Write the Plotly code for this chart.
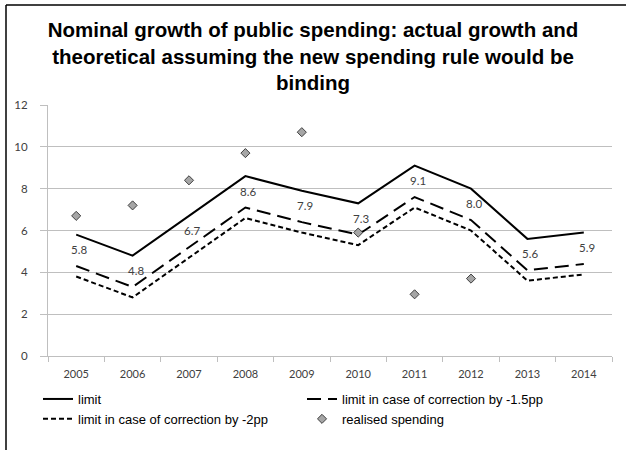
import plotly.graph_objects as go

years = ["2005", "2006", "2007", "2008", "2009", "2010", "2011", "2012", "2013", "2014"]
limit = [5.8, 4.8, 6.7, 8.6, 7.9, 7.3, 9.1, 8.0, 5.6, 5.9]
limit_15 = [4.3, 3.3, 5.2, 7.1, 6.4, 5.8, 7.6, 6.5, 4.1, 4.4]
limit_2 = [3.8, 2.8, 4.7, 6.6, 5.9, 5.3, 7.1, 6.0, 3.6, 3.9]
realised = [6.7, 7.2, 8.4, 9.7, 10.7, 5.9, 2.95, 3.7, None, None]
y_ticks = [0, 2, 4, 6, 8, 10, 12]

W, H = 626, 450
ML, MR, MT, MB = 48, 14, 105, 94
PW = W - ML - MR
PH = H - MT - MB

def px_x(p):
    return (p - ML) / PW

def px_y(p):
    return (H - MB - p) / PH

fig = go.Figure()
fig.add_trace(go.Scatter(
    x=years, y=limit, name="limit", mode="lines",
    line=dict(color="black", width=2),
))
fig.add_trace(go.Scatter(
    x=years, y=limit_15, name="limit in case of correction by -1.5pp", mode="lines",
    line=dict(color="black", width=2, dash="14px,7px"),
))
fig.add_trace(go.Scatter(
    x=years, y=limit_2, name="limit in case of correction by -2pp", mode="lines",
    line=dict(color="black", width=2, dash="5px,3px"),
))
fig.add_trace(go.Scatter(
    x=years, y=realised, name="realised spending", mode="markers",
    marker=dict(symbol="diamond", size=7, color="#a6a6a6",
                line=dict(color="#404040", width=1)),
))

# data labels for the limit series (x given as category index)
for i, v in enumerate(limit):
    fig.add_annotation(x=i, y=v, text=f"{v:.1f}", showarrow=False,
                       yshift=-15, xshift=3,
                       font=dict(family="Lato", size=11.5, color="#404040"))

# outer frame (top and left edges visible)
fig.add_shape(type="line", xref="paper", yref="paper",
              x0=px_x(6), x1=px_x(W + 5), y0=px_y(5), y1=px_y(5),
              line=dict(color="black", width=1.5))
fig.add_shape(type="line", xref="paper", yref="paper",
              x0=px_x(6), x1=px_x(6), y0=px_y(5), y1=px_y(H + 5),
              line=dict(color="black", width=1.5))

fig.update_layout(
    width=W, height=H,
    margin=dict(l=ML, r=MR, t=MT, b=MB, autoexpand=False),
    paper_bgcolor="white", plot_bgcolor="white",
    title=dict(
        text="Nominal growth of public spending: actual growth and<br>theoretical assuming the new spending rule would be<br>binding",
        x=0.5, xanchor="center", y=1 - 37 / H, yanchor="top",
        font=dict(family="Liberation Sans", size=20.5, color="black", weight="bold"),
    ),
    showlegend=True,
    legend=dict(
        orientation="h", x=px_x(38), xanchor="left", y=px_y(384), yanchor="top",
        entrywidth=219, entrywidthmode="pixels",
        font=dict(family="Liberation Sans", size=13, color="black"),
        tracegroupgap=0,
        bgcolor="rgba(0,0,0,0)",
    ),
    xaxis=dict(
        type="category", range=[-0.5, len(years) - 0.5],
        tickson="boundaries", ticks="outside", ticklen=5,
        tickcolor="#bfbfbf", showline=True, linecolor="#bfbfbf", linewidth=1,
        showgrid=False, automargin=False, ticklabelstandoff=8,
        tickfont=dict(family="Lato", size=11, color="#404040"),
    ),
    yaxis=dict(
        range=[0, 12], tickvals=y_ticks, ticks="outside", ticklen=7,
        tickcolor="#bfbfbf", showline=True, linecolor="#bfbfbf", linewidth=1,
        showgrid=True, gridcolor="#bfbfbf", gridwidth=1, zeroline=False,
        automargin=False, ticklabelstandoff=10,
        tickfont=dict(family="Lato", size=11.5, color="#404040"),
    ),
)

fig.write_html("out.html")
